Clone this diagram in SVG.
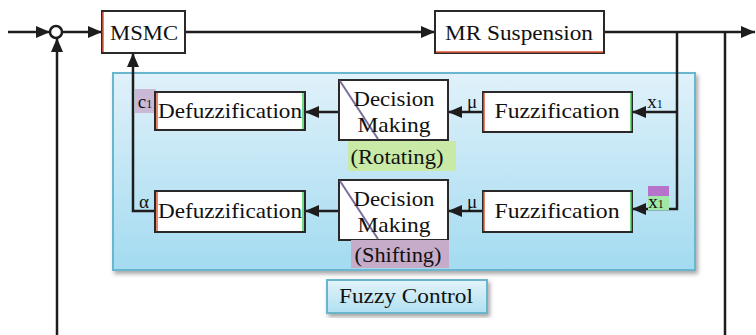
<svg xmlns="http://www.w3.org/2000/svg" width="756" height="335" viewBox="0 0 756 335">
<defs>
  <linearGradient id="outerGrad" x1="0" y1="0" x2="0" y2="1">
    <stop offset="0" stop-color="#e0f1fa"/>
    <stop offset="1" stop-color="#a3dbf0"/>
  </linearGradient>
  <linearGradient id="labelGrad" x1="0" y1="0" x2="0" y2="1">
    <stop offset="0" stop-color="#e3f3fa"/>
    <stop offset="1" stop-color="#b0e0f2"/>
  </linearGradient>
  <filter id="shadow" x="-5%" y="-10%" width="110%" height="125%">
    <feDropShadow dx="2" dy="3" stdDeviation="2" flood-color="#000" flood-opacity="0.35"/>
  </filter>
  <marker id="arr" viewBox="0 0 14 12" refX="14" refY="6" markerWidth="14" markerHeight="12" markerUnits="userSpaceOnUse" orient="auto">
    <path d="M0,0 L14,6 L0,12 Z" fill="#1e1c1d"/>
  </marker>
  <style>
    .box{fill:#fff;stroke:#2a2829;stroke-width:2}
    .t{font-family:"Liberation Serif","DejaVu Serif",serif;font-size:21px;fill:#111;text-anchor:middle}
    .s{font-family:"Liberation Serif","DejaVu Serif",serif;font-size:19px;fill:#111;text-anchor:middle}
    .ln{fill:none;stroke:#1e1c1d;stroke-width:2.5}
    .red{stroke:#e05a3a;stroke-width:1.5}
    .grn{stroke:#3fd05a;stroke-width:1.5}
  </style>
</defs>

<g id="fuzzy-control-area">
  <rect x="113" y="73" width="582" height="197" fill="url(#outerGrad)" stroke="#69b7cf" stroke-width="2" filter="url(#shadow)"/>
</g>

<g id="fuzzy-control-label">
  <rect x="327" y="280" width="160" height="33" fill="url(#labelGrad)" stroke="#68b5cc" stroke-width="2" filter="url(#shadow)"/>
  <text class="t" x="406" y="303" textLength="134" lengthAdjust="spacingAndGlyphs">Fuzzy Control</text>
</g>

<g id="connectors">
  <line class="ln" x1="8" y1="32" x2="50" y2="32" marker-end="url(#arr)"/>
  <line class="ln" x1="62" y1="32" x2="102" y2="32" marker-end="url(#arr)"/>
  <line class="ln" x1="185" y1="32" x2="435" y2="32" marker-end="url(#arr)"/>
  <line class="ln" x1="604" y1="32" x2="755" y2="32" marker-end="url(#arr)"/>
  <line class="ln" x1="725" y1="32" x2="725" y2="335"/>
  <line class="ln" x1="57" y1="335" x2="57" y2="38" marker-end="url(#arr)"/>
  <polyline class="ln" points="677,32 677,209 632,209" marker-end="url(#arr)"/>
  <line class="ln" x1="677" y1="112" x2="632" y2="112" marker-end="url(#arr)"/>
  <line class="ln" x1="483" y1="112" x2="448" y2="112" marker-end="url(#arr)"/>
  <line class="ln" x1="339" y1="112" x2="305" y2="112" marker-end="url(#arr)"/>
  <line class="ln" x1="483" y1="211" x2="448" y2="211" marker-end="url(#arr)"/>
  <line class="ln" x1="339" y1="211" x2="305" y2="211" marker-end="url(#arr)"/>
  <polyline class="ln" points="155,211 133,211 133,53" marker-end="url(#arr)"/>
</g>

<g id="sum">
  <circle cx="56" cy="32" r="6" fill="#fff" stroke="#1e1c1d" stroke-width="2.5"/>
</g>

<g id="msmc">
  <rect class="box" x="102" y="11" width="83" height="42"/>
  <line class="red" x1="103" y1="12" x2="103" y2="52"/>
  <text class="t" x="144" y="40" textLength="68" lengthAdjust="spacingAndGlyphs">MSMC</text>
</g>

<g id="mr-suspension">
  <rect class="box" x="435" y="11" width="169" height="42"/>
  <line class="red" x1="436" y1="52" x2="603" y2="52"/>
  <text class="t" x="519" y="40" textLength="148" lengthAdjust="spacingAndGlyphs">MR Suspension</text>
</g>

<g id="defuzz-top">
  <rect x="135" y="89" width="21" height="24" fill="#c9b8d6"/>
  <text class="s" x="145" y="108">c<tspan font-size="12">1</tspan></text>
  <rect class="box" x="155" y="92" width="150" height="38"/>
  <line class="red" x1="157" y1="93" x2="157" y2="129"/>
  <line class="grn" x1="303" y1="93" x2="303" y2="129"/>
  <text class="t" x="230" y="118" textLength="144" lengthAdjust="spacingAndGlyphs">Defuzzification</text>
</g>

<g id="decision-top">
  <rect class="box" x="339" y="80" width="109" height="60"/>
  <line x1="340" y1="81" x2="378" y2="139" stroke="#7a6f9a" stroke-width="2"/>
  <text class="t" x="394" y="106" textLength="81" lengthAdjust="spacingAndGlyphs">Decision</text>
  <text class="t" x="394" y="132" textLength="73" lengthAdjust="spacingAndGlyphs">Making</text>
  <rect x="348" y="141" width="108" height="30" fill="#c9e9a6"/>
  <text class="t" x="397" y="164" textLength="93" lengthAdjust="spacingAndGlyphs">(Rotating)</text>
</g>

<g id="fuzz-top">
  <text class="s" x="472" y="108">μ</text>
  <rect class="box" x="483" y="92" width="149" height="40"/>
  <line class="red" x1="484" y1="93" x2="484" y2="131"/>
  <line class="grn" x1="631" y1="93" x2="631" y2="131"/>
  <text class="t" x="557" y="118" textLength="125" lengthAdjust="spacingAndGlyphs">Fuzzification</text>
  <text class="s" x="655" y="108">x<tspan font-size="12">1</tspan></text>
</g>

<g id="defuzz-bottom">
  <text class="s" x="144" y="208">α</text>
  <rect class="box" x="155" y="191" width="150" height="41"/>
  <line class="red" x1="157" y1="192" x2="157" y2="231"/>
  <line class="grn" x1="303" y1="192" x2="303" y2="231"/>
  <text class="t" x="230" y="218" textLength="144" lengthAdjust="spacingAndGlyphs">Defuzzification</text>
</g>

<g id="decision-bottom">
  <rect class="box" x="339" y="180" width="109" height="60"/>
  <line x1="340" y1="181" x2="378" y2="239" stroke="#7a6f9a" stroke-width="2"/>
  <text class="t" x="394" y="206" textLength="81" lengthAdjust="spacingAndGlyphs">Decision</text>
  <text class="t" x="394" y="232" textLength="73" lengthAdjust="spacingAndGlyphs">Making</text>
  <rect x="351" y="240" width="98" height="28" fill="#c6acc8"/>
  <text class="t" x="398" y="262" textLength="87" lengthAdjust="spacingAndGlyphs">(Shifting)</text>
</g>

<g id="fuzz-bottom">
  <text class="s" x="472" y="208">μ</text>
  <rect class="box" x="483" y="191" width="149" height="41"/>
  <line class="red" x1="484" y1="192" x2="484" y2="231"/>
  <line class="grn" x1="631" y1="192" x2="631" y2="231"/>
  <text class="t" x="557" y="218" textLength="125" lengthAdjust="spacingAndGlyphs">Fuzzification</text>
  <rect x="648" y="186" width="21" height="10" fill="#b772cc"/>
  <rect x="648" y="196" width="21" height="14" fill="#9fe8a6"/>
  <text class="s" x="656" y="208">x<tspan font-size="12">1</tspan></text>
</g>
</svg>
